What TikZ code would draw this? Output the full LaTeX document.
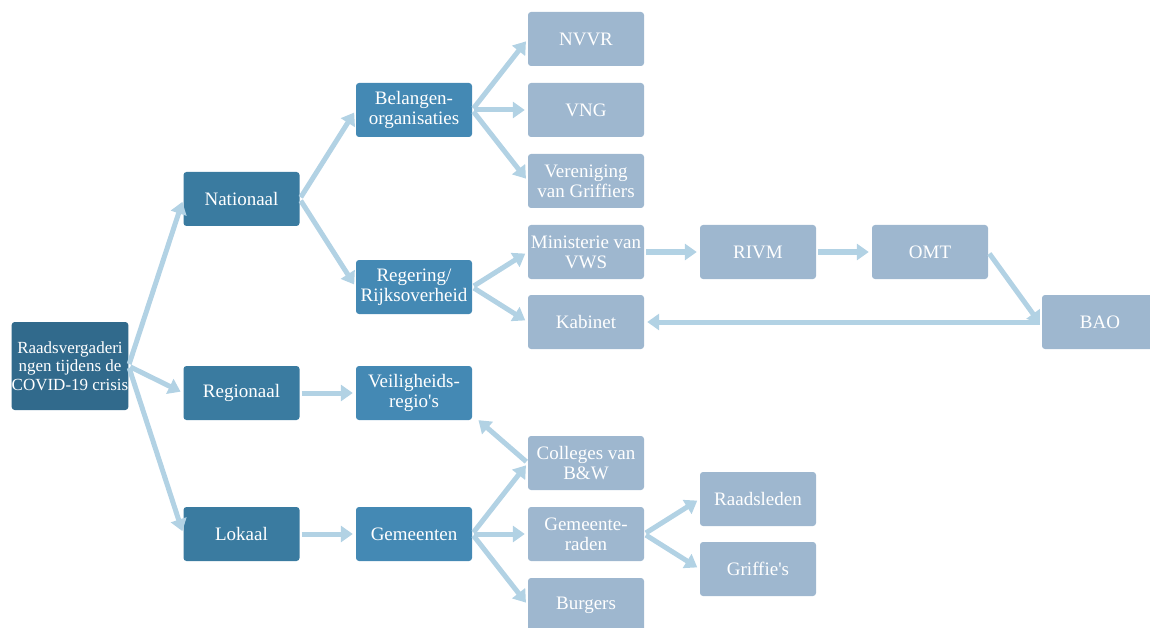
\documentclass[tikz,border=0pt]{standalone}
\usepackage{fontspec}
\setmainfont{Liberation Serif}
\newfontfamily\apofont{Liberation Serif}
\usetikzlibrary{arrows.meta}
\definecolor{rootc}{RGB}{49,106,140}
\definecolor{lvla}{RGB}{58,123,160}
\definecolor{lvlb}{RGB}{68,137,180}
\definecolor{lite}{RGB}{158,183,207}
\definecolor{arrc}{RGB}{178,210,228}
\newcommand{\apo}{{\apofont'}}
\tikzset{
  box/.style={rounded corners=3pt, minimum width=116pt, minimum height=54pt, inner sep=0pt,
    text=white, align=center, font=\fontsize{19}{20}\selectfont},
  rootbox/.style={box, fill=rootc, minimum height=88pt, font=\fontsize{17}{18.5}\selectfont},
  boxa/.style={box, fill=lvla},
  boxb/.style={box, fill=lvlb},
  boxl/.style={box, fill=lite},
  conn/.style={draw=arrc, line width=5pt, -{Triangle[width=16pt,length=12pt]}, shorten >=3pt, shorten <=2pt},
}
\begin{document}
\begin{tikzpicture}[x=1pt,y=-1pt]
\useasboundingbox (0,0) rectangle (1150,628);
\node[rootbox] (root) at (70,366) {Raadsvergaderi\\ngen tijdens de\\COVID-19 crisis};
\node[boxa] (nat) at (241.5,199) {Nationaal};
\node[boxa] (reg) at (241.5,393) {Regionaal};
\node[boxa] (lok) at (241.5,534) {Lokaal};
\node[boxb] (bel) at (414,110) {Belangen-\\organisaties};
\node[boxb] (rege) at (414,287) {Regering/\\Rijksoverheid};
\node[boxb] (veil) at (414,393) {Veiligheids-\\regio\apo s};
\node[boxb] (gem) at (414,534) {Gemeenten};
\node[boxl] (nvvr) at (586,39) {NVVR};
\node[boxl] (vng) at (586,110) {VNG};
\node[boxl] (ver) at (586,181) {Vereniging\\van Griffiers};
\node[boxl] (min) at (586,252) {Ministerie van\\VWS};
\node[boxl] (kab) at (586,322) {Kabinet};
\node[boxl] (col) at (586,463) {Colleges van\\B\&W};
\node[boxl] (gr) at (586,534) {Gemeente-\\raden};
\node[boxl] (bur) at (586,605) {Burgers};
\node[boxl] (rivm) at (758,252) {RIVM};
\node[boxl] (omt) at (930,252) {OMT};
\node[boxl] (bao) at (1100,322) {BAO};
\node[boxl] (raad) at (758,499) {Raadsleden};
\node[boxl] (grif) at (758,569) {Griffie\apo s};
% connectors
\draw[conn] (root.east) -- (nat.west);
\draw[conn] (root.east) -- (reg.west);
\draw[conn] (root.east) -- (lok.west);
\draw[conn] (nat.east) -- (bel.west);
\draw[conn] (nat.east) -- (rege.west);
\draw[conn] (reg.east) -- (veil.west);
\draw[conn] (lok.east) -- (gem.west);
\draw[conn] (bel.east) -- (nvvr.west);
\draw[conn] (bel.east) -- (vng.west);
\draw[conn] (bel.east) -- (ver.west);
\draw[conn] (rege.east) -- (min.west);
\draw[conn] (rege.east) -- (kab.west);
\draw[conn] (min.east) -- (rivm.west);
\draw[conn] (rivm.east) -- (omt.west);
\draw[conn] (omt.east) -- ([yshift=-4pt]bao.west);
\draw[conn] (bao.west) -- (kab.east);
\draw[conn] (gem.east) -- (col.west);
\draw[conn] (gem.east) -- (gr.west);
\draw[conn] (gem.east) -- (bur.west);
\draw[conn] (col.west) -- ([xshift=4pt,yshift=2pt]veil.south east);
\draw[conn] (gr.east) -- (raad.west);
\draw[conn] (gr.east) -- (grif.west);
\end{tikzpicture}
\end{document}
